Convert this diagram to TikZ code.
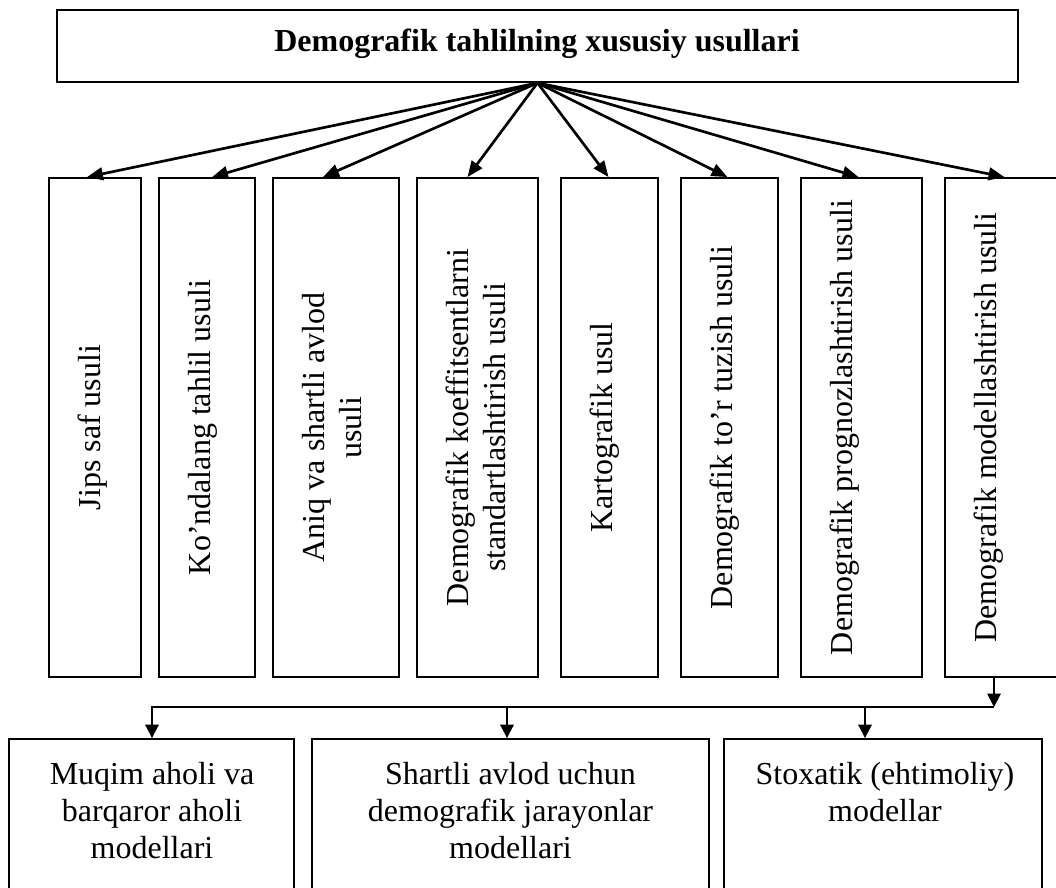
\documentclass[tikz,border=0pt]{standalone}
\usepackage{fontspec}
\setmainfont{Liberation Serif}
\usetikzlibrary{arrows.meta}
\begin{document}
\begin{tikzpicture}[x=0.75pt,y=-0.75pt,
  boxst/.style={draw, line width=1.4pt, inner sep=0pt},
  vbox/.style={boxst, minimum height=499*0.75pt},
  fan/.style={line width=2pt, -{Triangle[length=12pt,width=9.5pt]}},
  link/.style={line width=1.4pt},
  drop/.style={line width=1.4pt, -{Triangle[length=10pt,width=10pt]}},
  vtext/.style={rotate=90, anchor=north, align=center, inner sep=0pt,
    font=\fontsize{24}{27.8}\selectfont},
  btext/.style={anchor=north, align=center, inner sep=0pt,
    font=\fontsize{24}{27.8}\selectfont}]
\useasboundingbox (0,0) rectangle (1056,888);
\clip (0,0) rectangle (1056,888);

% title box
\node[boxst, minimum width=961*0.75pt, minimum height=72*0.75pt] (top) at (537.5,46) {};
\node[anchor=base, inner sep=0pt, font=\fontsize{24}{27.8}\selectfont\bfseries] (title) at (537,52)
  {Demografik tahlilning xususiy usullari};

% vertical boxes
\node[vbox, minimum width=92*0.75pt]  (b1) at (95,427.5) {};
\node[vbox, minimum width=96*0.75pt]  (b2) at (207,427.5) {};
\node[vbox, minimum width=126*0.75pt] (b3) at (336,427.5) {};
\node[vbox, minimum width=121*0.75pt] (b4) at (477.5,427.5) {};
\node[vbox, minimum width=97*0.75pt]  (b5) at (609.5,427.5) {};
\node[vbox, minimum width=97*0.75pt]  (b6) at (729.5,427.5) {};
\node[vbox, minimum width=121*0.75pt] (b7) at (861.5,427.5) {};
\node[vbox, minimum width=125*0.75pt] (b8) at (1007.5,427.5) {};

\node[vtext] (t1) at (78,427.5)  {Jips saf usuli};
\node[vtext] (t2) at (188,427.5) {Ko’ndalang tahlil usuli};
\node[vtext] (t3) at (302,427.5) {Aniq va shartli avlod\\usuli};
\node[vtext] (t4) at (446,427.5) {Demografik koeffitsentlarni\\standartlashtirish usuli};
\node[vtext] (t5) at (590,427.5) {Kartografik usul};
\node[vtext] (t6) at (710,427.5) {Demografik to’r tuzish usuli};
\node[vtext] (t7) at (830,427.5) {Demografik prognozlashtirish usuli};
\node[vtext] (t8) at (974,427.5) {Demografik modellashtirish usuli};

% fan of arrows
\draw[fan] (top.south) -- ([xshift=-8*0.75pt]b1.north);
\draw[fan] (top.south) -- ([xshift=5*0.75pt]b2.north);
\draw[fan] (top.south) -- ([xshift=-13*0.75pt]b3.north);
\draw[fan] (top.south) -- ([xshift=-10*0.75pt]b4.north);
\draw[fan] (top.south) -- ([xshift=-1*0.75pt]b5.north);
\draw[fan] (top.south) -- ([xshift=-2*0.75pt]b6.north);
\draw[fan] (top.south) -- ([xshift=-3*0.75pt]b7.north);
\draw[fan] (top.south) -- ([xshift=-3*0.75pt]b8.north);

% bottom boxes
\node[boxst, minimum width=285*0.75pt, minimum height=161*0.75pt] (m1) at (151.5,819.5) {};
\node[boxst, minimum width=397*0.75pt, minimum height=161*0.75pt] (m2) at (510.5,819.5) {};
\node[boxst, minimum width=318*0.75pt, minimum height=161*0.75pt] (m3) at (883,819.5) {};

\node[btext] (s1) at (152,762) {Muqim aholi va\\barqaror aholi\\modellari};
\node[btext] (s2) at (510.5,762) {Shartli avlod uchun\\demografik jarayonlar\\modellari};
\node[btext] (s3) at (885,762) {Stoxatik (ehtimoliy)\\modellar};

% bottom connectors
\coordinate (hj) at (994,707);
\coordinate (h1) at (152,707);
\coordinate (h2) at (507,707);
\coordinate (h3) at (865,707);
\draw[drop] (b8.south -| hj) -- (hj);
\draw[drop] (hj) -- (h1) -- (h1 |- m1.north);
\draw[drop] (h2) -- (h2 |- m2.north);
\draw[drop] (h3) -- (h3 |- m3.north);
\end{tikzpicture}
\end{document}
